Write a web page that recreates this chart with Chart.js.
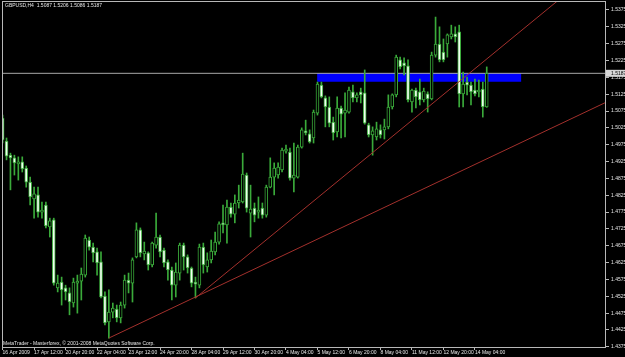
<!DOCTYPE html>
<html>
<head>
<meta charset="utf-8">
<title>GBPUSD,H4</title>
<script src="https://cdn.jsdelivr.net/npm/chart.js@4.4.1/dist/chart.umd.min.js"></script>
<style>
  html, body { margin: 0; padding: 0; background: #000; }
  #wrap { width: 625px; height: 357px; }
</style>
</head>
<body>
<div id="wrap"><canvas id="chart"></canvas></div>
<script>
// H4 bars, 16 Apr 2009 04:00 .. 14 May 2009 16:00
const xTickBars = [0, 8, 16, 24, 32, 40, 48, 56, 64, 72, 80, 88, 96, 104, 112, 120];
const xTickLabels = ['16 Apr 2009', '17 Apr 12:00', '20 Apr 20:00', '22 Apr 04:00', '23 Apr 12:00',
    '24 Apr 20:00', '28 Apr 04:00', '29 Apr 12:00', '30 Apr 20:00', '4 May 04:00', '5 May 12:00',
    '6 May 20:00', '8 May 04:00', '11 May 12:00', '12 May 20:00', '14 May 04:00'];
const yTickValues = [1.4375, 1.4425, 1.4475, 1.4525, 1.4575, 1.4625, 1.4675, 1.4725, 1.4775, 1.4825,
    1.4875, 1.4925, 1.4975, 1.5025, 1.5075, 1.5125, 1.5175, 1.5225, 1.5275, 1.5325, 1.5375];

const open = [1.5054, 1.4986, 1.4944, 1.4936, 1.4918, 1.4924, 1.4906, 1.4864, 1.4814, 1.4826,
    1.4775, 1.4796, 1.4731, 1.4752, 1.4550, 1.4567, 1.4550, 1.4535, 1.4505, 1.4564,
    1.4570, 1.4588, 1.4692, 1.4671, 1.4657, 1.4627, 1.4526, 1.4449, 1.4478, 1.4487,
    1.4461, 1.4499, 1.4573, 1.4564, 1.4642, 1.4722, 1.4651, 1.4654, 1.4618, 1.4677,
    1.4701, 1.4662, 1.4627, 1.4603, 1.4558, 1.4594, 1.4677, 1.4642, 1.4609, 1.4567,
    1.4558, 1.4671, 1.4612, 1.4633, 1.4657, 1.4686, 1.4743, 1.4737, 1.4790, 1.4769,
    1.4802, 1.4805, 1.4885, 1.4772, 1.4787, 1.4775, 1.4787, 1.4766, 1.4849, 1.4879,
    1.4885, 1.4900, 1.4956, 1.4953, 1.4876, 1.4879, 1.4968, 1.5016, 1.5007, 1.4995,
    1.5069, 1.5152, 1.5114, 1.5087, 1.5042, 1.5013, 1.5084, 1.5069, 1.5072, 1.5132,
    1.5114, 1.5132, 1.5129, 1.5034, 1.5004, 1.4998, 1.5019, 1.5019, 1.5028, 1.5087,
    1.5123, 1.5227, 1.5218, 1.5209, 1.5102, 1.5137, 1.5132, 1.5108, 1.5126, 1.5111,
    1.5241, 1.5274, 1.5250, 1.5274, 1.5295, 1.5304, 1.5310, 1.5126, 1.5161, 1.5152,
    1.5137, 1.5132, 1.5140, 1.5087];
const high = [1.5063, 1.4995, 1.4950, 1.4944, 1.4939, 1.4939, 1.4912, 1.4879, 1.4849, 1.4849,
    1.4805, 1.4805, 1.4757, 1.4757, 1.4588, 1.4582, 1.4558, 1.4550, 1.4579, 1.4588,
    1.4609, 1.4707, 1.4701, 1.4683, 1.4668, 1.4657, 1.4538, 1.4544, 1.4505, 1.4499,
    1.4508, 1.4588, 1.4594, 1.4639, 1.4743, 1.4728, 1.4686, 1.4657, 1.4686, 1.4772,
    1.4707, 1.4668, 1.4633, 1.4612, 1.4624, 1.4683, 1.4683, 1.4648, 1.4612, 1.4582,
    1.4680, 1.4683, 1.4654, 1.4692, 1.4716, 1.4746, 1.4796, 1.4811, 1.4802, 1.4826,
    1.4855, 1.4950, 1.4891, 1.4855, 1.4802, 1.4820, 1.4802, 1.4855, 1.4936, 1.4921,
    1.4921, 1.4965, 1.4974, 1.4965, 1.4980, 1.4974, 1.5025, 1.5048, 1.5019, 1.5078,
    1.5161, 1.5161, 1.5120, 1.5117, 1.5057, 1.5117, 1.5090, 1.5129, 1.5146, 1.5152,
    1.5129, 1.5143, 1.5197, 1.5039, 1.5028, 1.5042, 1.5034, 1.5051, 1.5123, 1.5126,
    1.5241, 1.5235, 1.5233, 1.5227, 1.5140, 1.5143, 1.5170, 1.5143, 1.5132, 1.5250,
    1.5354, 1.5325, 1.5289, 1.5304, 1.5330, 1.5325, 1.5330, 1.5191, 1.5176, 1.5161,
    1.5170, 1.5167, 1.5161, 1.5206];
const low = [1.4980, 1.4930, 1.4841, 1.4885, 1.4870, 1.4894, 1.4849, 1.4796, 1.4757, 1.4760,
    1.4757, 1.4728, 1.4701, 1.4558, 1.4538, 1.4499, 1.4514, 1.4470, 1.4493, 1.4475,
    1.4514, 1.4582, 1.4662, 1.4627, 1.4588, 1.4520, 1.4440, 1.4401, 1.4461, 1.4449,
    1.4446, 1.4490, 1.4535, 1.4508, 1.4639, 1.4642, 1.4633, 1.4603, 1.4612, 1.4668,
    1.4642, 1.4612, 1.4573, 1.4514, 1.4523, 1.4573, 1.4603, 1.4594, 1.4553, 1.4520,
    1.4550, 1.4594, 1.4597, 1.4624, 1.4648, 1.4680, 1.4713, 1.4683, 1.4760, 1.4743,
    1.4787, 1.4802, 1.4775, 1.4701, 1.4746, 1.4757, 1.4757, 1.4760, 1.4847, 1.4826,
    1.4876, 1.4894, 1.4950, 1.4870, 1.4835, 1.4876, 1.4965, 1.5004, 1.4980, 1.4980,
    1.5063, 1.5114, 1.5028, 1.5028, 1.4989, 1.4998, 1.4995, 1.4998, 1.5069, 1.5102,
    1.5102, 1.5099, 1.5036, 1.4998, 1.4944, 1.4989, 1.4995, 1.4992, 1.5022, 1.5081,
    1.5117, 1.5200, 1.5182, 1.5102, 1.5072, 1.5084, 1.5093, 1.5102, 1.5072, 1.5108,
    1.5235, 1.5221, 1.5221, 1.5235, 1.5289, 1.5280, 1.5087, 1.5087, 1.5123, 1.5093,
    1.5120, 1.5117, 1.5057, 1.5086];
const close = [1.4989, 1.4941, 1.4936, 1.4921, 1.4924, 1.4903, 1.4864, 1.4820, 1.4829, 1.4775,
    1.4781, 1.4734, 1.4749, 1.4564, 1.4564, 1.4544, 1.4538, 1.4508, 1.4567, 1.4570,
    1.4591, 1.4698, 1.4671, 1.4654, 1.4624, 1.4523, 1.4446, 1.4478, 1.4490, 1.4461,
    1.4499, 1.4573, 1.4564, 1.4633, 1.4722, 1.4654, 1.4659, 1.4618, 1.4683, 1.4701,
    1.4657, 1.4624, 1.4603, 1.4558, 1.4597, 1.4677, 1.4642, 1.4609, 1.4564, 1.4561,
    1.4671, 1.4618, 1.4633, 1.4659, 1.4686, 1.4740, 1.4737, 1.4790, 1.4769, 1.4802,
    1.4811, 1.4888, 1.4787, 1.4784, 1.4766, 1.4781, 1.4766, 1.4849, 1.4879, 1.4906,
    1.4909, 1.4959, 1.4962, 1.4876, 1.4885, 1.4968, 1.5019, 1.5010, 1.4983, 1.5072,
    1.5155, 1.5117, 1.5087, 1.5039, 1.5010, 1.5084, 1.5066, 1.5078, 1.5137, 1.5114,
    1.5123, 1.5123, 1.5039, 1.5004, 1.5016, 1.5022, 1.5004, 1.5028, 1.5087, 1.5123,
    1.5235, 1.5206, 1.5209, 1.5108, 1.5137, 1.5117, 1.5108, 1.5134, 1.5111, 1.5241,
    1.5274, 1.5227, 1.5227, 1.5301, 1.5304, 1.5295, 1.5126, 1.5155, 1.5152, 1.5132,
    1.5126, 1.5137, 1.5087, 1.5187];

// drawn objects: [bar, price] anchors
const trendLow = [[27, 1.4401], [153.3, 1.5101]];
const trendSteep = [[49, 1.4520], [141.5, 1.5407]];
const zoneBars = [79.9, 131.8];
const zonePrices = [1.5162, 1.5188];

const header = 'GBPUSD,H4  1.5087 1.5206 1.5086 1.5187';
const copyright = 'MetaTrader - Masterforex, \u00a9 2001-2008 MetaQuotes Software Corp.';

const candleGreen = '#3aaa3a';
const frameColor = '#b8b8b8';
const xMin = -0.15, xMax = 153.3;
const lastPrice = close[close.length - 1];

const wicks = close.map((c, i) => ({ x: i, y: [low[i], high[i]] }));
const bodies = close.map((c, i) => ({ x: i, y: [open[i], c] }));
const bodyFill = close.map((c, i) => c >= open[i] ? '#000000' : '#f0fff0');

const mtOverlay = {
    id: 'mtOverlay',
    beforeDraw(chart) {
        const { ctx, width, height } = chart;
        ctx.save();
        ctx.fillStyle = '#000';
        ctx.fillRect(0, 0, width, height);
        ctx.restore();
    },
    afterDraw(chart) {
        const { ctx, chartArea: a, scales } = chart;
        ctx.save();
        ctx.strokeStyle = frameColor;
        ctx.lineWidth = 1;
        ctx.strokeRect(a.left + 0.5, a.top + 0.5, a.right - a.left - 1, a.bottom - a.top - 1);

        ctx.font = '5px "Liberation Sans"';
        ctx.fillStyle = '#e6e6e6';
        ctx.textBaseline = 'top';
        ctx.fillText(header, 5, 3);
        ctx.fillText(copyright, 3, 341);

        // bid price marker on the price scale
        const y = scales.y.getPixelForValue(lastPrice);
        ctx.fillStyle = '#d6d6d6';
        ctx.fillRect(a.right, y - 3.5, chart.width - a.right, 7);
        ctx.fillStyle = '#000';
        ctx.textBaseline = 'middle';
        ctx.fillText(lastPrice.toFixed(4), a.right + 5, y + 0.5);
        ctx.restore();
    }
};

const ctx = document.getElementById('chart').getContext('2d');
new Chart(ctx, {
    data: {
        datasets: [
            {
                type: 'line',
                data: [{ x: zoneBars[0], y: zonePrices[1] }, { x: zoneBars[1], y: zonePrices[1] }],
                borderColor: '#0000ff',
                borderWidth: 0,
                backgroundColor: '#0000ff',
                fill: { value: zonePrices[0] },
                pointRadius: 0,
                order: 6,
            },
            {
                type: 'line',
                data: [{ x: xMin, y: lastPrice }, { x: xMax, y: lastPrice }],
                borderColor: '#a8a8a8',
                borderWidth: 1,
                pointRadius: 0,
                order: 5,
            },
            {
                type: 'bar',
                data: wicks,
                backgroundColor: candleGreen,
                borderWidth: 0,
                barThickness: 1,
                grouped: false,
                order: 4,
            },
            {
                type: 'bar',
                data: bodies,
                backgroundColor: bodyFill,
                borderColor: candleGreen,
                borderWidth: 1,
                borderSkipped: false,
                barThickness: 3,
                minBarLength: 1,
                grouped: false,
                order: 3,
            },
            {
                type: 'line',
                data: trendLow.map(p => ({ x: p[0], y: p[1] })),
                borderColor: '#a3302c',
                borderWidth: 1,
                pointRadius: 0,
                order: 1,
            },
            {
                type: 'line',
                data: trendSteep.map(p => ({ x: p[0], y: p[1] })),
                borderColor: '#a3302c',
                borderWidth: 1,
                pointRadius: 0,
                order: 1,
            },
        ],
    },
    options: {
        responsive: true,
        maintainAspectRatio: false,
        animation: false,
        layout: { padding: { left: 2, top: 1, right: 0, bottom: 0 } },
        plugins: {
            legend: { display: false },
            tooltip: { enabled: false },
        },
        scales: {
            x: {
                type: 'linear',
                offset: false,
                min: xMin,
                max: xMax,
                afterBuildTicks: (scale) => { scale.ticks = xTickBars.map(v => ({ value: v })); },
                afterFit: (scale) => {
                    scale.height = 9;
                    scale.paddingLeft = 0;
                    scale.paddingRight = 0;
                },
                border: { display: false },
                grid: { offset: false, drawOnChartArea: false, drawTicks: true, tickLength: 2, color: frameColor },
                ticks: {
                    autoSkip: false,
                    maxRotation: 0,
                    minRotation: 0,
                    align: 'start',
                    padding: 0,
                    color: '#e6e6e6',
                    font: { family: 'Liberation Sans', size: 5 },
                    callback: (v, i) => xTickLabels[i],
                },
            },
            y: {
                type: 'linear',
                position: 'right',
                min: 1.43715,
                max: 1.54017,
                afterBuildTicks: (scale) => { scale.ticks = yTickValues.map(v => ({ value: v })); },
                afterFit: (scale) => {
                    scale.width = 19;
                    scale.paddingTop = 0;
                    scale.paddingBottom = 0;
                },
                border: { display: false },
                grid: { drawOnChartArea: false, drawTicks: true, tickLength: 3, color: frameColor },
                ticks: {
                    padding: 2,
                    color: '#e6e6e6',
                    font: { family: 'Liberation Sans', size: 5 },
                    callback: (v) => v.toFixed(4),
                },
            },
        },
    },
    plugins: [mtOverlay],
});
</script>
</body>
</html>
